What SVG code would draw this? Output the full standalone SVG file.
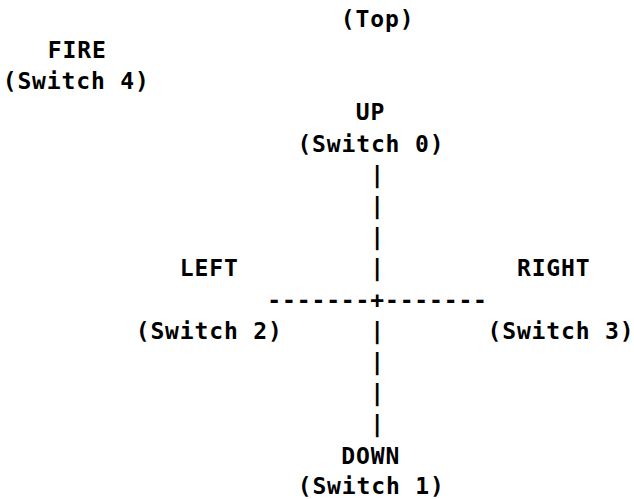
<svg xmlns="http://www.w3.org/2000/svg" width="634" height="499" viewBox="0 0 634 499">
<style>
text{font-family:"DejaVu Sans Mono","Liberation Mono",monospace;font-weight:bold;font-size:23px;letter-spacing:0.85px;fill:#000;text-anchor:middle}
</style>
<rect width="634" height="499" fill="#fff"/>
<g id="top"><text x="377.6" y="26.8">(Top)</text></g>
<g id="fire"><text x="77.2" y="58">FIRE</text><text x="76.2" y="89.2">(Switch 4)</text></g>
<g id="up"><text x="370.4" y="120.4">UP</text><text x="370.9" y="151.6">(Switch 0)</text></g>
<g id="left"><text x="209.2" y="276.4">LEFT</text><text x="209.2" y="338.8">(Switch 2)</text></g>
<g id="right"><text x="553.7" y="276.4">RIGHT</text><text x="561" y="338.8">(Switch 3)</text></g>
<g id="down"><text x="370.7" y="463.6">DOWN</text><text x="371.2" y="494.4">(Switch 1)</text></g>
<g id="connectors">
<text x="377.6" y="182.8">|</text>
<text x="377.6" y="214">|</text>
<text x="377.6" y="245.2">|</text>
<text x="377.6" y="276.4">|</text>
<text x="377.6" y="307.6">-------+-------</text>
<text x="377.6" y="338.8">|</text>
<text x="377.6" y="370">|</text>
<text x="377.6" y="401.2">|</text>
<text x="377.6" y="432.4">|</text>
</g>
</svg>
